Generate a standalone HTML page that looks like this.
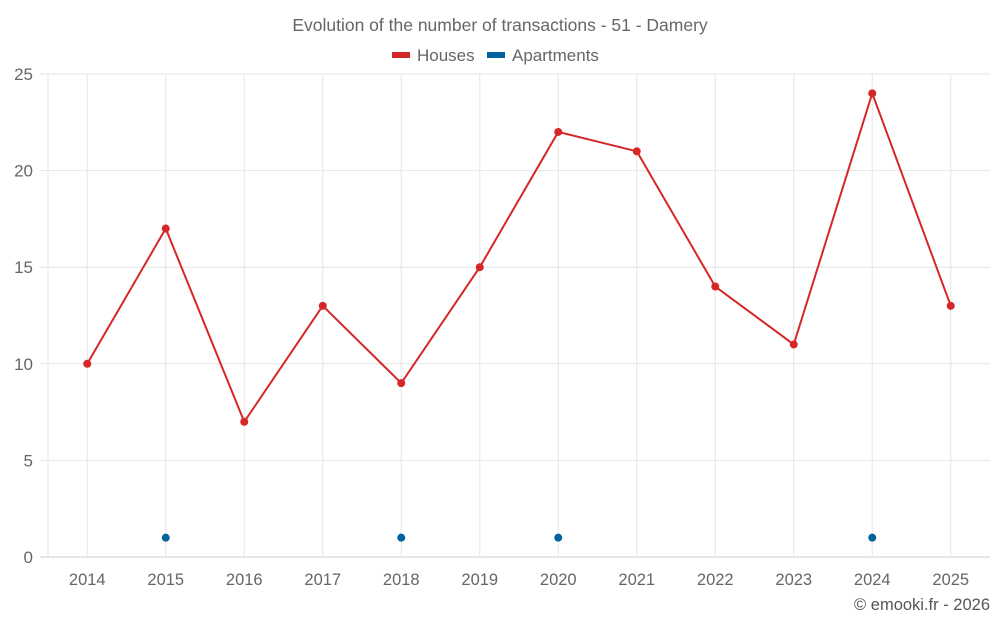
<!DOCTYPE html>
<html><head><meta charset="utf-8"><style>
body{margin:0;background:#fff;font-family:"Liberation Sans",sans-serif}
</style></head><body>
<svg id="c" width="1000" height="625" xmlns="http://www.w3.org/2000/svg" font-family="Liberation Sans, sans-serif">
<text x="500" y="31" text-anchor="middle" font-size="17.5" fill="#666">Evolution of the number of transactions - 51 - Damery</text>
<g><rect x="392" y="52" width="18" height="6" fill="#d62728"/><text x="417" y="61" font-size="17" fill="#666">Houses</text></g>
<g><rect x="487" y="52" width="18" height="6" fill="#00639f"/><text x="512" y="61" font-size="17" fill="#666">Apartments</text></g>
<g id="grid"></g><g id="axes"></g><g id="marks"></g>
<text x="990" y="610" text-anchor="end" font-size="16.5" fill="#555">© emooki.fr - 2026</text>
</svg>
<script>
const years=[2014,2015,2016,2017,2018,2019,2020,2021,2022,2023,2024,2025];
const houses=[10,17,7,13,9,15,22,21,14,11,24,13];
const apartments=[null,1,null,null,1,null,1,null,null,null,1,null];
const yTicks=[0,5,10,15,20,25];
const NS="http://www.w3.org/2000/svg";
const L=48,R=990,T=74,B=557,band=(R-L)/years.length;
const x=i=>L+band*(i+0.5), y=v=>B-(v/25)*(B-T);
function el(t,a,p){const e=document.createElementNS(NS,t);for(const k in a)e.setAttribute(k,a[k]);document.getElementById(p).appendChild(e);return e;}
el('line',{x1:L,x2:L,y1:T,y2:B,stroke:'#e6e6e6'},'grid');
yTicks.forEach(v=>{
 const g=el('line',{x1:40,x2:R,y1:y(v),y2:y(v),stroke:v===0?'#ccc':'#e6e6e6'},'grid');
 
 
 const t=el('text',{x:33,y:y(v)+6,'text-anchor':'end','font-size':17,fill:'#666'},'axes');t.textContent=v;
 
 
});
years.forEach((yr,i)=>{
 el('line',{x1:x(i),x2:x(i),y1:T,y2:B,stroke:'#e6e6e6'},'grid');
 const t=el('text',{x:x(i),y:585,'text-anchor':'middle','font-size':16.5,fill:'#666'},'axes');t.textContent=yr;
 
 
});
const p=el('polyline',{points:houses.map((v,i)=>x(i)+','+y(v)).join(' '),fill:'none',stroke:'#d62728','stroke-width':2},'marks');


houses.forEach((v,i)=>{const c=el('circle',{cx:x(i),cy:y(v),r:4,fill:'#d62728'},'marks');
 
 });
apartments.forEach((v,i)=>{if(v==null)return;const c=el('circle',{cx:x(i),cy:y(v),r:4,fill:'#00639f'},'marks');
 
 });
</script>
</body></html>
